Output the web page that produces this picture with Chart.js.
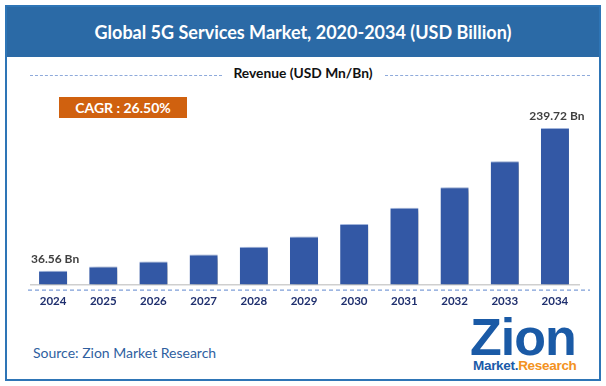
<!DOCTYPE html>
<html>
<head>
<meta charset="utf-8">
<script src="https://cdn.jsdelivr.net/npm/chart.js@4.4.1/dist/chart.umd.min.js"></script>
<style>
  html, body { margin: 0; padding: 0; background: #ffffff; }
  #wrap { position: relative; width: 606px; height: 386px; overflow: hidden; font-family: Lato, "Open Sans", sans-serif; }
  #frame { position: absolute; left: 5px; top: 5px; width: 592px; height: 372px; border: 2px solid #2e75b6; }
  #band { position: absolute; left: 5px; top: 5px; width: 596px; height: 52px; background: #2b6aa6; }
  #title { position: absolute; left: 5px; top: 5px; width: 596px; height: 54px; line-height: 54px; text-align: center; color: #ffffff; font-weight: bold; font-size: 18px; }
  #sub { position: absolute; left: 0; width: 606px; top: 64px; text-align: center; font-weight: bold; font-size: 13.8px; color: #111111; }
  .dash { position: absolute; height: 0; border-top: 1.3px dashed #8eaadb; }
  #cagr { position: absolute; left: 59px; top: 97px; width: 128px; height: 21px; line-height: 21px; background: #d0610f; color: #ffffff; font-weight: bold; font-size: 14px; text-align: center; }
  #source { position: absolute; left: 33px; top: 344px; font-size: 14px; color: #2f5f9f; }
  #logo1 { position: absolute; left: 470px; top: 311px; font-family: "Liberation Sans", Arial, sans-serif; font-weight: bold; font-size: 52px; line-height: 52px; color: #1a5aa6; letter-spacing: -1px; }
  #logo2 { position: absolute; left: 473px; top: 358px; font-family: "Liberation Sans", Arial, sans-serif; font-weight: bold; font-size: 13.5px; line-height: 16px; letter-spacing: -0.3px; }
  #logo2 .m { color: #1b5ba8; }
  #logo2 .r { color: #f39221; }
  #chart { position: absolute; left: 0; top: 0; }
</style>
</head>
<body>
<div id="wrap">
  <div id="band"></div>
  <div id="frame"></div>
  <div id="title">Global 5G Services Market, 2020-2034 (USD Billion)</div>
  <div class="dash" style="left:30px; top:75px; width:192px;"></div>
  <div id="sub">Revenue (USD Mn/Bn)</div>
  <div class="dash" style="left:385px; top:75px; width:205px;"></div>
  <div id="cagr">CAGR : 26.50%</div>
  <div id="source">Source: Zion Market Research</div>
  <div id="logo1">Zion</div>
  <div id="logo2"><span class="m">Market.</span><span class="r">Research</span></div>
  <canvas id="chart" width="606" height="386"></canvas>
</div>
<script>
const years = ["2024", "2025", "2026", "2027", "2028", "2029", "2030", "2031", "2032", "2033", "2034"];
const revenue = [36.56, 42.6, 49.6, 59.5, 70.7, 85.1, 103.1, 126.1, 155.6, 192.6, 239.72];
const valueLabels = ["36.56 Bn", "", "", "", "", "", "", "", "", "", "239.72 Bn"];
const axisMin = 17.3;
const axisMax = 279.8;

const barDecor = {
  id: 'barDecor',
  beforeDatasetsDraw(chart) {
    const ctx = chart.ctx;
    const xs = chart.scales.x, ys = chart.scales.y;
    const base = ys.bottom;
    ctx.save();
    ctx.strokeStyle = '#cfcfcf';
    ctx.lineWidth = 1.5;
    ctx.beginPath();
    ctx.moveTo(xs.left + 2, base + 0.5);
    ctx.lineTo(xs.right, base + 0.5);
    ctx.stroke();
    ctx.strokeStyle = '#7f9fd8';
    ctx.lineWidth = 1.2;
    ctx.setLineDash([4, 3]);
    ctx.beginPath();
    ctx.moveTo(xs.left, base + 6);
    ctx.lineTo(xs.right + 10, base + 6);
    ctx.stroke();
    ctx.restore();
    ctx.save();
    ctx.shadowColor = 'rgba(0,0,0,0.45)';
    ctx.shadowOffsetX = 4;
    ctx.shadowOffsetY = 2;
    ctx.shadowBlur = 5;
  },
  afterDatasetsDraw(chart) {
    const ctx = chart.ctx;
    ctx.restore();
    const meta = chart.getDatasetMeta(0);
    ctx.save();
    ctx.font = 'bold 12px Lato, sans-serif';
    ctx.fillStyle = '#404040';
    ctx.textAlign = 'center';
    ctx.textBaseline = 'bottom';
    meta.data.forEach((bar, i) => {
      const t = valueLabels[i];
      if (t) ctx.fillText(t, bar.x + 2, bar.y - 6);
    });
    ctx.restore();
  }
};

new Chart(document.getElementById('chart'), {
  type: 'bar',
  data: {
    labels: years,
    datasets: [{
      data: revenue,
      backgroundColor: '#3358a5',
      borderColor: '#a9bde6',
      borderWidth: { top: 1, left: 0, right: 0, bottom: 0 },
      barPercentage: 0.56,
      categoryPercentage: 1.0
    }]
  },
  options: {
    responsive: false,
    animation: false,
    devicePixelRatio: 1,
    layout: { padding: { left: 28, right: 26, top: 100, bottom: 68 } },
    plugins: { legend: { display: false }, tooltip: { enabled: false }, title: { display: false } },
    scales: {
      x: {
        grid: { display: false, drawTicks: false },
        border: { display: false },
        ticks: { color: '#1f2f6e', font: { family: 'Lato, sans-serif', size: 11.5, weight: 'bold' }, padding: 10 }
      },
      y: {
        display: false,
        min: axisMin,
        max: axisMax
      }
    }
  },
  plugins: [barDecor]
});
</script>
</body>
</html>
